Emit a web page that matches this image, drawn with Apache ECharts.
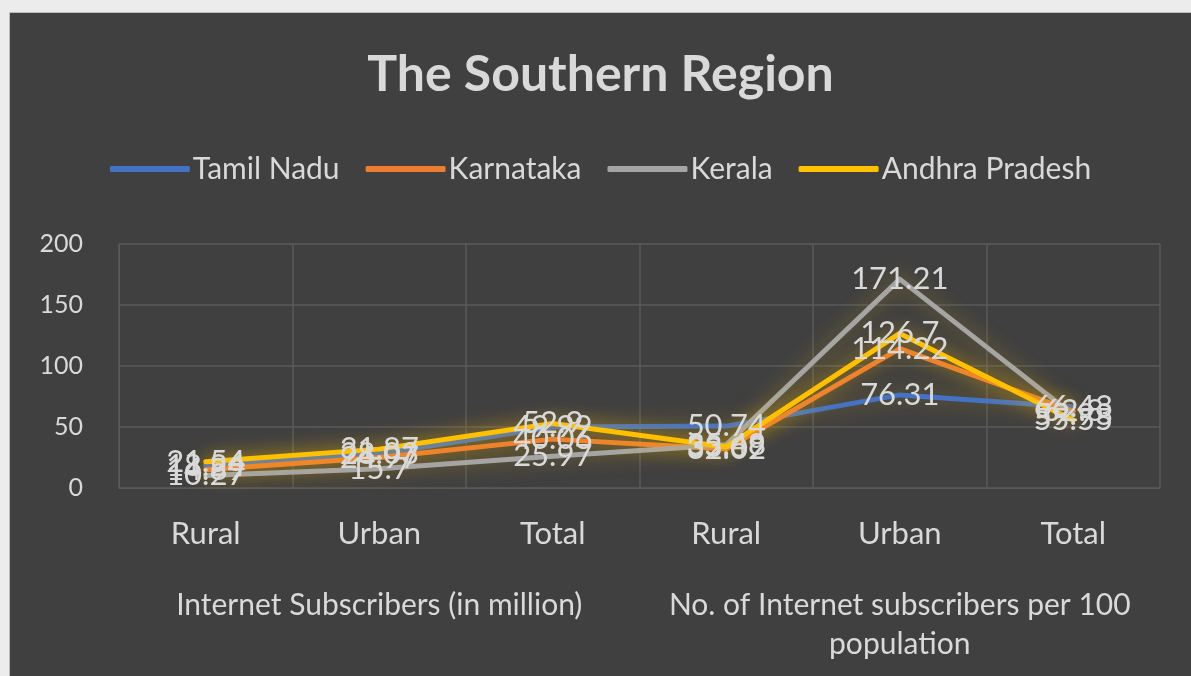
<!DOCTYPE html>
<html>
<head>
<meta charset="utf-8">
<script src="https://cdn.jsdelivr.net/npm/echarts@6/dist/echarts.min.js"></script>
<style>
  html, body { margin: 0; padding: 0; background: #ececec; }
  #chart {
    position: absolute;
    left: 9px;
    top: 12px;
    width: 1182px;
    height: 664px;
    border-left: 1px solid #bdbdbd;
    border-top: 1px solid #bdbdbd;
    box-sizing: border-box;
  }
</style>
</head>
<body>
<div id="chart"></div>
<script>
const categories = ['Rural', 'Urban', 'Total', 'Rural', 'Urban', 'Total']
const groups = ['Internet Subscribers (in million)', 'No. of Internet subscribers per 100\npopulation']
const yTicks = [0, 50, 100, 150, 200]

const tamilNadu = [18.24, 28.03, 49.99, 50.74, 76.31, 66.43]
const karnataka = [14.89, 24.97, 40.06, 32.02, 114.22, 62.8]
const kerala = [10.27, 15.7, 25.97, 35.48, 171.21, 59.93]
const andhraPradesh = [21.54, 31.87, 52.9, 33.69, 126.7, 55.55]

const textColor = '#d9d9d9'
const font = 'Lato, "Open Sans", sans-serif'

const chartInstance = echarts.init(document.getElementById('chart'))

const makeSeries = (name, data, color, glow) => ({
  name,
  type: 'line',
  data,
  smooth: false,
  symbol: 'circle',
  symbolSize: 0.1,
  lineStyle: {
    width: 5,
    color,
    cap: 'round',
    join: 'round',
    shadowBlur: 20,
    shadowColor: glow
  },
  itemStyle: { color },
  label: {
    show: true,
    position: 'inside',
    color: textColor,
    fontSize: 31,
    fontFamily: font
  }
})

const option = {
  backgroundColor: '#404040',
  animation: false,
  title: {
    text: 'The Southern Region',
    left: 'center',
    top: 32,
    textStyle: {
      color: textColor,
      fontSize: 50,
      fontWeight: 'bold',
      fontFamily: font
    }
  },
  legend: {
    top: 136,
    left: 'center',
    icon: 'roundRect',
    itemWidth: 80,
    itemHeight: 6,
    itemGap: 26,
    textStyle: { color: textColor, fontSize: 30, fontFamily: font, padding: [0, 0, 0, -2] },
    data: ['Tamil Nadu', 'Karnataka', 'Kerala', 'Andhra Pradesh']
  },
  grid: {
    top: 231,
    left: 109,
    right: 31,
    bottom: 188
  },
  xAxis: [
    {
      type: 'category',
      data: categories,
      boundaryGap: true,
      axisLine: { lineStyle: { color: '#5a5a5a', width: 1 } },
      axisTick: { show: false },
      splitLine: { show: true, lineStyle: { color: '#5a5a5a', width: 1.5 } },
      axisLabel: { color: textColor, fontSize: 31, fontFamily: font, margin: 30, interval: 0 }
    },
    {
      type: 'category',
      data: groups,
      position: 'bottom',
      boundaryGap: true,
      axisLine: { show: false },
      axisTick: { show: false },
      splitLine: { show: false },
      axisLabel: { color: textColor, fontSize: 30, fontFamily: font, margin: 98, lineHeight: 39, interval: 0, hideOverlap: false }
    }
  ],
  yAxis: {
    type: 'value',
    min: yTicks[0],
    max: yTicks[yTicks.length - 1],
    interval: yTicks[1] - yTicks[0],
    axisLine: { show: true, lineStyle: { color: '#5a5a5a' } },
    axisTick: { show: false },
    splitLine: { lineStyle: { color: '#5a5a5a', width: 1.5 } },
    axisLabel: { color: textColor, fontSize: 25, fontFamily: font, margin: 36 }
  },
  series: [
    makeSeries('Tamil Nadu', tamilNadu, '#4472C4', 'rgba(255, 192, 0, 0.35)'),
    makeSeries('Karnataka', karnataka, '#ED7D31', 'rgba(255, 192, 0, 0.45)'),
    makeSeries('Kerala', kerala, '#A5A5A5', 'rgba(255, 192, 0, 0.4)'),
    makeSeries('Andhra Pradesh', andhraPradesh, '#FFC000', 'rgba(255, 192, 0, 0.75)')
  ]
}

chartInstance.setOption(option)

window.addEventListener('resize', () => {
  chartInstance?.resize()
})
</script>
</body>
</html>
